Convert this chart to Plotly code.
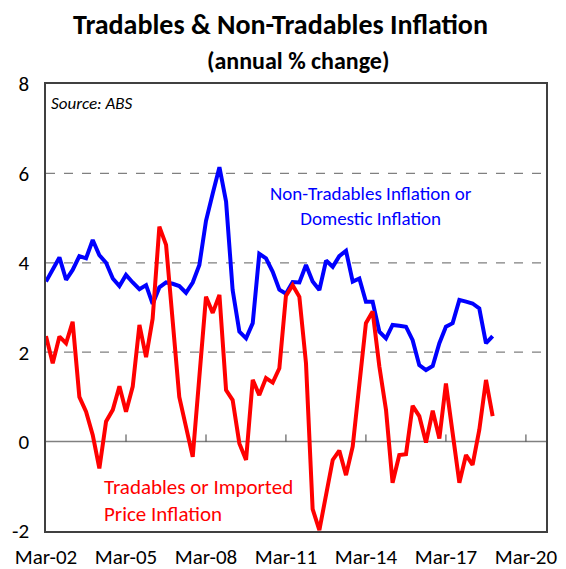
import plotly.graph_objects as go
import pandas as pd

start_quarter = "2002-03-01"
n_quarters = 68

non_tradables = [3.58, 3.85, 4.12, 3.62, 3.84, 4.15, 4.10, 4.51, 4.17, 4.00,
                 3.65, 3.48, 3.73, 3.56, 3.41, 3.50, 3.08, 3.45, 3.56, 3.53,
                 3.48, 3.33, 3.56, 3.95, 4.94, 5.55, 6.14, 5.37, 3.39, 2.46,
                 2.31, 2.65, 4.20, 4.10, 3.80, 3.40, 3.31, 3.57, 3.56, 3.95,
                 3.58, 3.39, 4.05, 3.91, 4.15, 4.27, 3.58, 3.65, 3.13, 3.13,
                 2.46, 2.31, 2.61, 2.59, 2.57, 2.27, 1.71, 1.60, 1.69, 2.20,
                 2.57, 2.65, 3.17, 3.13, 3.09, 2.98, 2.20, 2.36]

tradables = [2.36, 1.75, 2.35, 2.20, 2.68, 1.00, 0.67, 0.15, -0.60, 0.45,
             0.71, 1.24, 0.67, 1.23, 2.61, 1.89, 2.75, 4.81, 4.40, 2.70,
             1.00, 0.33, -0.34, 1.45, 3.24, 2.88, 3.28, 1.15, 0.93, -0.04,
             -0.41, 1.38, 1.04, 1.42, 1.32, 1.64, 3.26, 3.50, 3.24, 1.75,
             -1.51, -1.98, -1.16, -0.41, -0.20, -0.75, -0.11, 1.23, 2.65, 2.91,
             1.68, 0.71, -0.92, -0.30, -0.28, 0.80, 0.57, -0.02, 0.69, 0.07,
             1.30, 0.19, -0.92, -0.30, -0.52, 0.26, 1.38, 0.57]

tick_dates = ["2002-03-01", "2005-03-01", "2008-03-01", "2011-03-01",
              "2014-03-01", "2017-03-01", "2020-03-01"]
tick_labels = ["Mar-02", "Mar-05", "Mar-08", "Mar-11", "Mar-14", "Mar-17", "Mar-20"]
y_ticks = [-2, 0, 2, 4, 6, 8]
y_tick_labels = ["-2", "0", "2", "4", "6", "8"]

dates = pd.date_range(start_quarter, periods=n_quarters, freq="3MS")

FONT = "Carlito, 'Liberation Sans Narrow', 'Open Sans', sans-serif"

fig = go.Figure()
fig.add_trace(go.Scatter(x=dates, y=non_tradables, mode="lines",
                         line=dict(color="#0000FF", width=4), showlegend=False))
fig.add_trace(go.Scatter(x=dates, y=tradables, mode="lines",
                         line=dict(color="#FF0000", width=4), showlegend=False))

# dashed gridlines
for v in [2, 4, 6]:
    fig.add_shape(type="line", xref="paper", yref="y", x0=0, x1=1, y0=v, y1=v,
                  line=dict(color="#808080", width=1.3, dash="dash"), layer="below")
# zero line
fig.add_shape(type="line", xref="paper", yref="y", x0=0, x1=1, y0=0, y1=0,
              line=dict(color="#808080", width=1.5), layer="below")
# tick marks on zero line
for d in tick_dates[1:]:
    fig.add_shape(type="line", xref="x", yref="y", x0=d, x1=d, y0=0, y1=0.16,
                  line=dict(color="#404040", width=1), layer="below")

fig.add_annotation(x=0.468, y=1.0, xref="paper", yref="paper", yanchor="middle",
                   text="Tradables & Non-Tradables Inflation", showarrow=False,
                   font=dict(size=28, color="black", family=FONT, weight="bold"),
                   yshift=60)
fig.add_annotation(x=0.504, y=1.0, xref="paper", yref="paper", yanchor="middle",
                   text="(annual % change)", showarrow=False,
                   font=dict(size=24, color="black", family=FONT, weight="bold"),
                   yshift=24)
fig.add_annotation(x=0.006, y=0.985, xref="paper", yref="paper", xanchor="left", yanchor="top",
                   text="<i>Source: ABS</i>", showarrow=False,
                   font=dict(size=17, color="black", family=FONT))
fig.add_annotation(x="2014-05-15", y=5.26, xref="x", yref="y", xanchor="center", yanchor="middle",
                   text="Non-Tradables Inflation or<br>Domestic Inflation", showarrow=False,
                   align="center",
                   font=dict(size=19, color="#0000FF", family=FONT))
fig.add_annotation(x="2004-04-01", y=-1.31, xref="x", yref="y", xanchor="left", yanchor="middle",
                   text="Tradables or Imported<br>Price Inflation", showarrow=False,
                   align="left",
                   font=dict(size=21, color="#FF0000", family=FONT))

# page body has an 8px default margin, so size the figure to fit the window
fig.update_layout(
    width=558, height=561,
    margin=dict(l=38, r=20, t=76, b=38),
    paper_bgcolor="white", plot_bgcolor="white",
    font=dict(family=FONT, size=21, color="black"),
    xaxis=dict(type="date", range=["2002-03-01", "2020-12-01"],
               tickvals=tick_dates, ticktext=tick_labels, ticks="",
               showgrid=False, zeroline=False, showline=True, mirror=True,
               linecolor="#404040", linewidth=1.5, ticklabelstandoff=6,
               automargin=False, tickfont=dict(size=21)),
    yaxis=dict(range=[-2, 8], tickvals=y_ticks, ticktext=y_tick_labels, ticks="",
               showgrid=False, zeroline=False, showline=True, mirror=True,
               linecolor="#404040", linewidth=1.5, ticklabelstandoff=11,
               automargin=False, tickfont=dict(size=21)),
)

fig.write_html("out.html")
